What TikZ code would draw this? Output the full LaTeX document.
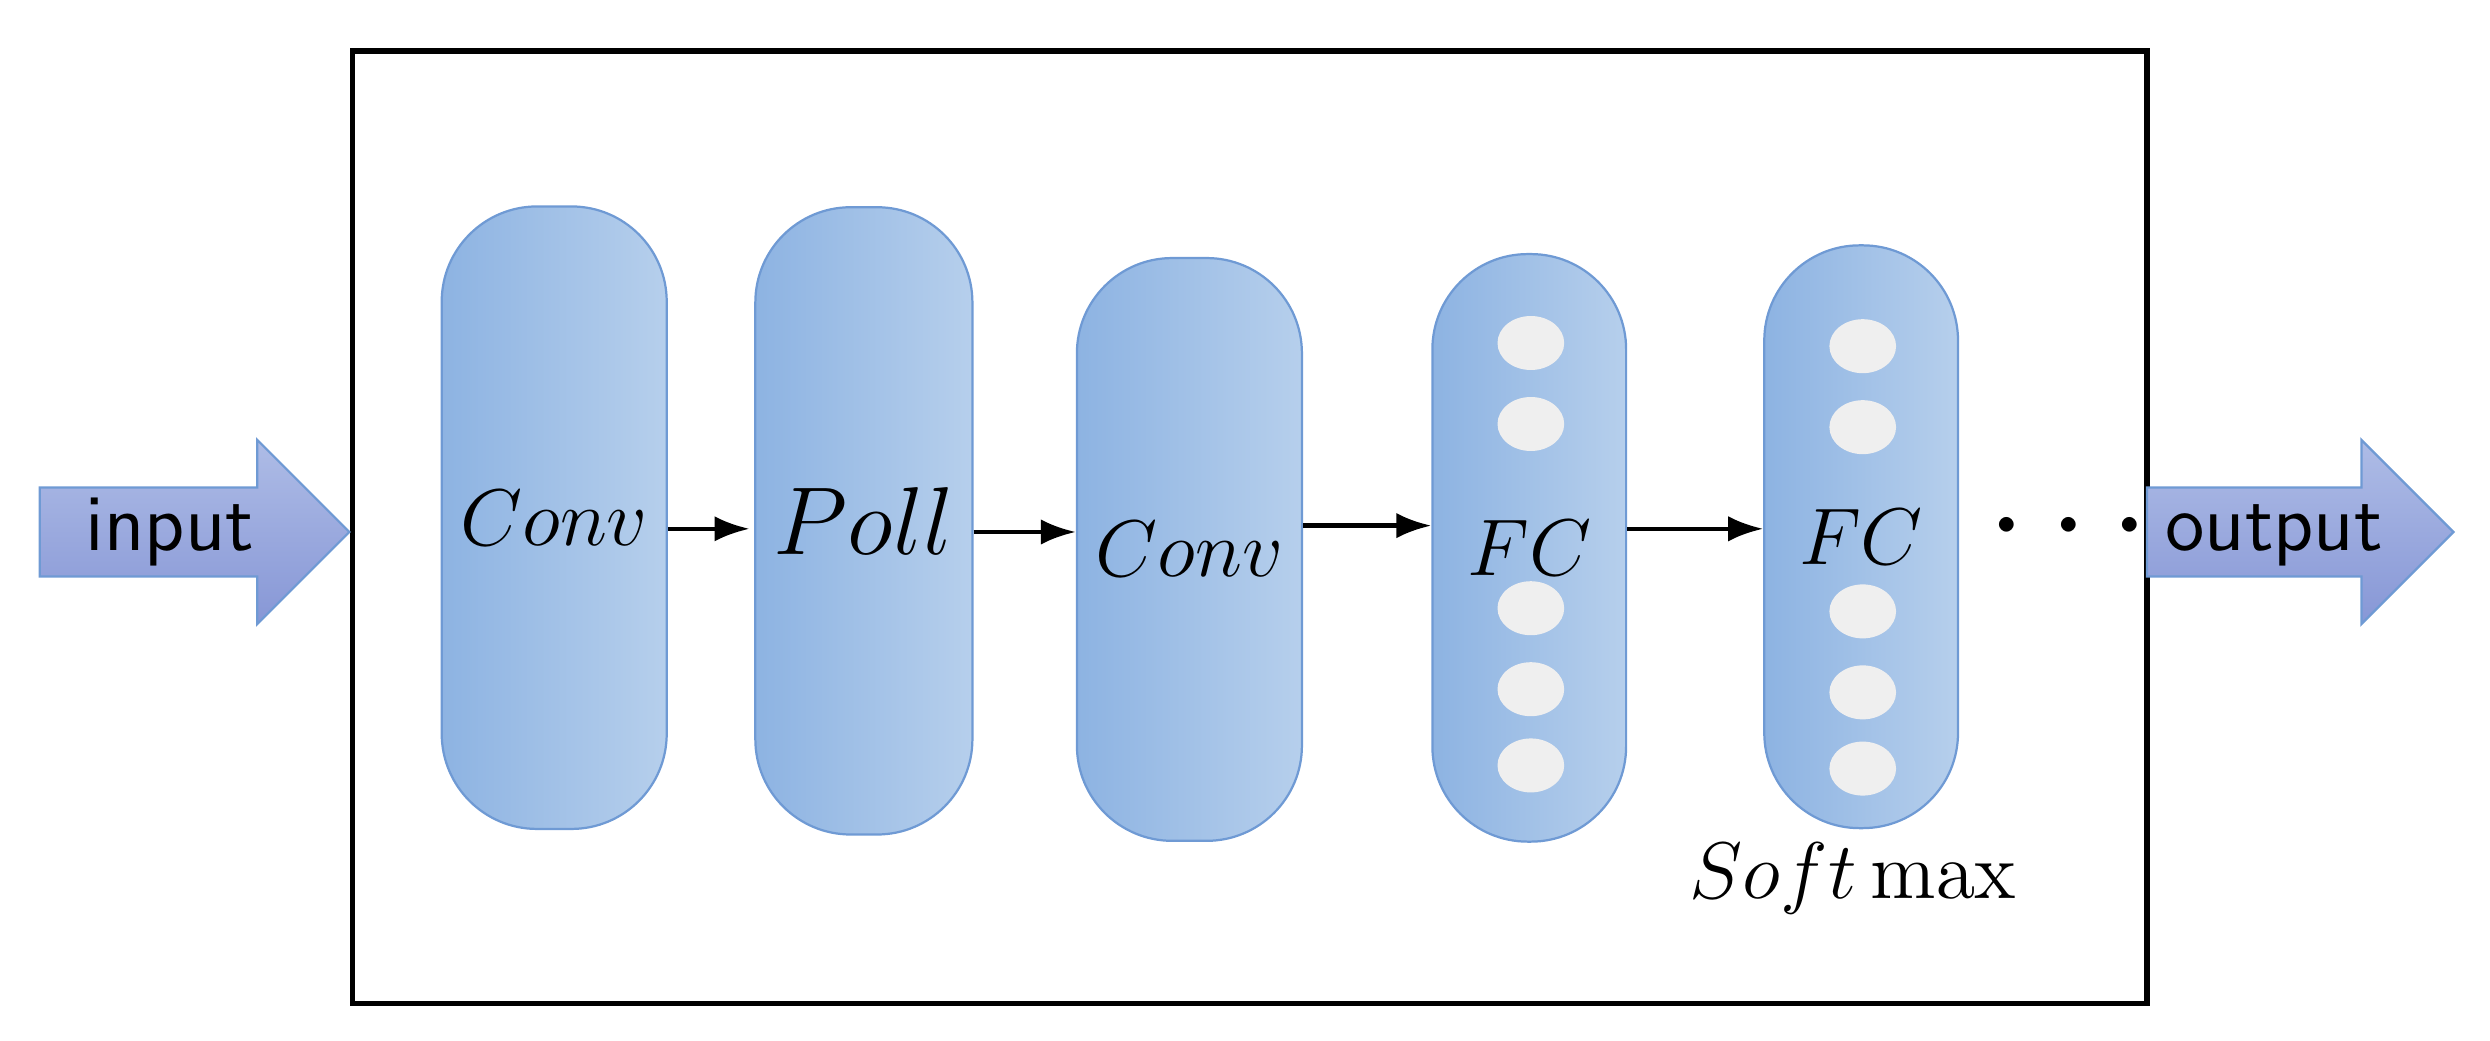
\documentclass[tikz,border=0pt]{standalone}
\usepackage{amsmath}
\usetikzlibrary{arrows.meta,shapes.geometric}
\definecolor{pillL}{HTML}{8DB3E2}
\definecolor{pillR}{HTML}{B6CFEC}
\definecolor{pillE}{HTML}{6F9AD4}
\definecolor{arrT}{HTML}{AEBCE6}
\definecolor{arrB}{HTML}{8797D6}
\definecolor{dotC}{HTML}{EFEFEF}
\tikzset{
  pill/.style={draw=pillE,left color=pillL,right color=pillR,minimum width=1.22cm,rounded corners=0.6cm,font=\Large},
  unit/.style={ellipse,fill=dotC,minimum width=0.42cm,minimum height=0.34cm,inner sep=0pt},
  flow/.style={-{Latex[length=2.2mm,width=1.6mm]},line width=0.8pt},
  bigarrow/.style={draw=pillE,top color=arrT,bottom color=arrB},
}
\begin{document}
\begin{tikzpicture}[x=0.1mm,y=-0.1mm]
\useasboundingbox (0,0) rectangle (1568,655);
\draw[line width=1pt] (222,32) rectangle (1352,632);

% input / output
\path[bigarrow] (25,307)--(162,307)--(162,277)--(220,335)--(162,393)--(162,363)--(25,363)--cycle;
\node[font=\sffamily\Large] (in) at (107,335) {input};
\path[bigarrow] (1352,307)--(1487,307)--(1487,277)--(1545,335)--(1487,393)--(1487,363)--(1352,363)--cycle;
\node[font=\sffamily\Large] (out) at (1432,337) {output};

% layers
\node[pill,minimum height=3.92cm] (conv1) at (349,326) {$Conv$};
\node[pill,minimum height=3.95cm,font=\LARGE] (poll) at (544,328) {$Poll$};
\node[pill,minimum height=3.67cm] (conv2) at (749,346) {$Conv$};
\node[pill,minimum height=3.70cm] (fc1) at (963,345) {$FC$};
\node[pill,minimum height=3.67cm] (fc2) at (1172,338) {$FC$};

\foreach \y in {216,267,383,434,482}{
  \node[unit] at (964,\y) {};
  \node[unit] at (1173,\y+2) {};
}

\draw[flow] (conv1.east|-0,333) -- (472,333) coordinate (p1);
\draw[flow] (poll.east|-0,335) -- (conv2.west|-0,335);
\draw[flow] (conv2.east|-0,331) -- (fc1.west|-0,331);
\draw[flow] (fc1.east|-0,333) -- (fc2.west|-0,333);

\node[font=\Huge] (dots) at (1310,333) {$\cdots$};
\node[font=\Large] (smax) at (1167,553) {$Soft\max$};
\end{tikzpicture}
\end{document}
